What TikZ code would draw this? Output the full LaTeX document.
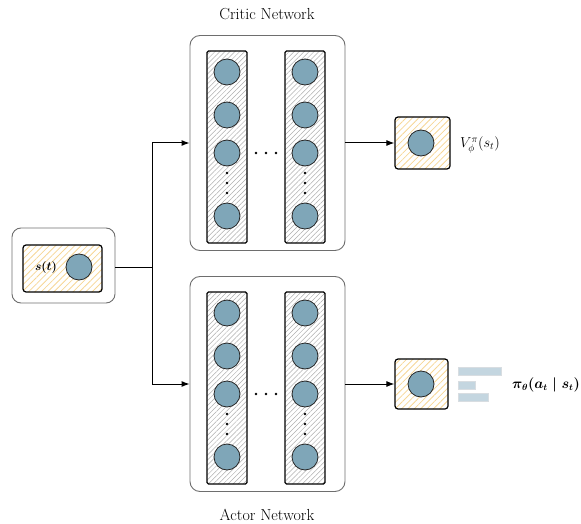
\documentclass[tikz,border=0pt]{standalone}
\usepackage{amsmath,amssymb}
\usetikzlibrary{patterns.meta,arrows.meta}

\definecolor{unitfill}{RGB}{127,166,184}
\definecolor{hatchgray}{RGB}{175,175,175}
\definecolor{hatchyellow}{RGB}{246,214,150}
\definecolor{barfill}{RGB}{196,214,224}
\definecolor{framegray}{RGB}{110,110,110}

\tikzset{
  outerbox/.style={draw=framegray, line width=0.9pt, rounded corners=10pt},
  layerbox/.style={draw=black, line width=1.1pt, rounded corners=1.5pt,
    minimum width=40pt, minimum height=192pt,
    pattern={Lines[angle=45,distance=3.5pt,line width=0.5pt]}, pattern color=hatchgray},
  iobox/.style={draw=black, line width=1.2pt, rounded corners=3pt,
    pattern={Lines[angle=45,distance=4.5pt,line width=0.8pt]}, pattern color=hatchyellow},
  unit/.style={circle, draw=black!85, line width=0.8pt, fill=unitfill,
    minimum size=26pt, inner sep=0pt},
  dotmark/.style={circle, fill=black, inner sep=0pt, minimum size=2.8pt},
  bar/.style={draw=barfill!80!black!40, fill=barfill, line width=0.3pt, inner sep=0pt},
  link/.style={line width=1pt, -{Latex[length=8pt,width=6pt]}},
  plain/.style={line width=1pt},
  title/.style={font=\fontsize{16}{18}\selectfont, inner sep=0pt},
  mathlabel/.style={anchor=west, inner sep=0pt}
}

% one network: #1 = name prefix, #2 = vertical centre of the layer columns
\newcommand{\drawnet}[2]{%
  \node[outerbox, minimum width=155pt, minimum height=215pt] (#1) at (267.5,#2-4) {};
  \foreach \cx/\lay in {227/a,305/b}{
    \node[layerbox] (#1-\lay) at (\cx,#2) {};
    \foreach \dy/\k in {-75/1,-32/2,6/3,69/4}
      \node[unit] (#1-\lay\k) at (\cx,#2+\dy) {};
    \foreach \dy/\k in {26/1,36/2,46/3}
      \node[dotmark] (#1-\lay v\k) at (\cx,#2+\dy) {};
  }
  \foreach \dx/\k in {256/1,266/2,276/3}
    \node[dotmark] (#1-h\k) at (\dx,#2+6) {};
}

\begin{document}
\begin{tikzpicture}[x=1pt,y=-1pt]
\useasboundingbox (0,0) rectangle (581,524);

% input state
\node[outerbox, minimum width=103pt, minimum height=75pt, rounded corners=9pt] (stout) at (63.5,265.5) {};
\node[iobox, minimum width=79pt, minimum height=47pt] (stin) at (62.5,268.5) {};
\node[unit] (stunit) at (79,267) {};
\node[font=\fontsize{13}{15}\selectfont] (stlabel) at (46,267) {$\boldsymbol{s(t)}$};

% the two networks
\drawnet{critic}{147}
\drawnet{actor}{388}
\node[title] (critictitle) at (267,14) {Critic Network};
\node[title] (actortitle) at (267,515) {Actor Network};

% value output
\node[iobox, minimum width=55pt, minimum height=52pt] (vout) at (422.5,143) {};
\node[unit] (vunit) at (421,143) {};
\node[mathlabel, font=\fontsize{14}{16}\selectfont] (vlabel) at (460,145) {$V^{\pi}_{\phi}(s_t)$};

% policy output
\node[iobox, minimum width=53pt, minimum height=50pt] (pout) at (421.5,384) {};
\node[unit] (punit) at (421,384) {};
\node[bar, minimum width=43pt, minimum height=8pt, anchor=west] (bar1) at (458,371) {};
\node[bar, minimum width=17pt, minimum height=8pt, anchor=west] (bar2) at (458,385) {};
\node[bar, minimum width=30pt, minimum height=8pt, anchor=west] (bar3) at (458,397.5) {};
\node[mathlabel, font=\fontsize{13.5}{16}\selectfont] (plabel) at (512,385) {$\boldsymbol{\pi_\theta(a_t\mid s_t)}$};

% connectors
\coordinate (split) at (152,267);
\draw[plain] (stout.east |- split) -- (split);
\draw[link] (split) |- (critic.west);
\draw[link] (split) |- (actor.west);
\draw[link] (critic.east) -- (critic.east -| vout.west);
\draw[link] (actor.east) -- (actor.east -| pout.west);
\end{tikzpicture}
\end{document}
